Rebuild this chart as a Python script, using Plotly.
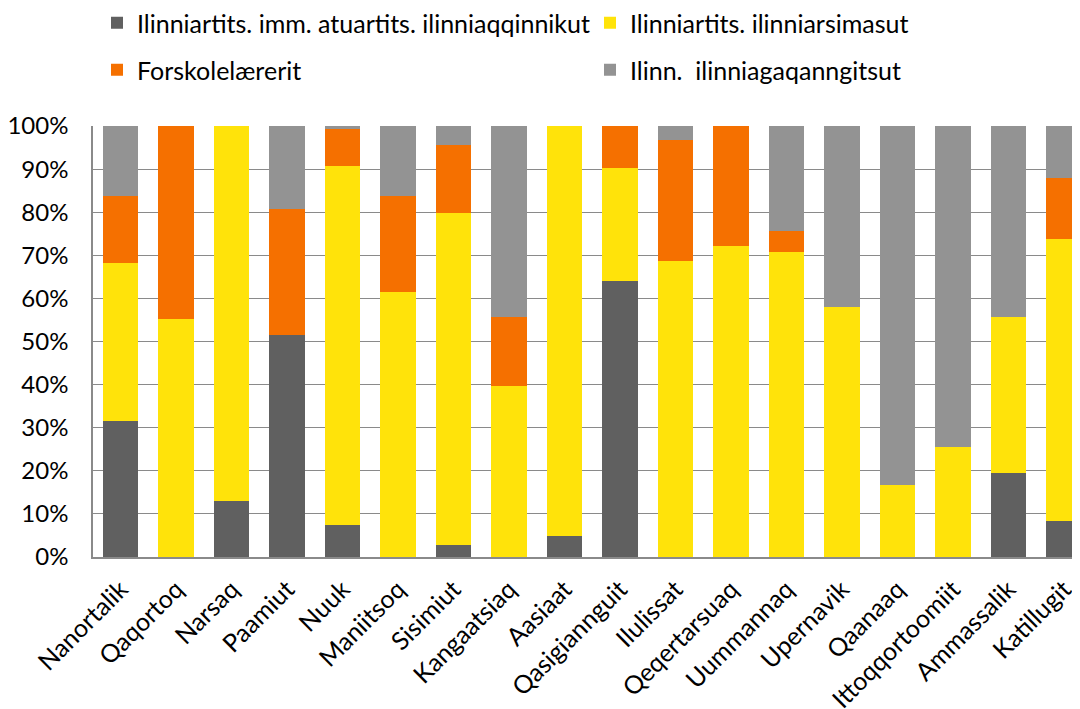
import plotly.graph_objects as go

steder = ['Nanortalik', 'Qaqortoq', 'Narsaq', 'Paamiut', 'Nuuk', 'Maniitsoq', 'Sisimiut',
          'Kangaatsiaq', 'Aasiaat', 'Qasigiannguit', 'Ilulissat', 'Qeqertarsuaq', 'Uummannaq',
          'Upernavik', 'Qaanaaq', 'Ittoqqortoomiit', 'Ammassalik', 'Katillugit']

# andele i procent, læst af figuren
imm_atuartits = [31.5, 0, 13.0, 51.4, 7.5, 0, 2.8, 0, 4.9, 64.0, 0, 0, 0, 0, 0, 0, 19.6, 8.4]
ilinniarsimasut = [36.8, 55.3, 87.0, 0, 83.2, 61.5, 76.9, 39.7, 95.1, 26.2, 68.7, 72.2, 70.7, 58.1, 16.6, 25.6, 36.1, 65.3]
forskolelaererit = [15.5, 44.7, 0, 29.4, 8.5, 22.3, 15.9, 15.9, 0, 9.8, 28.1, 27.8, 5.0, 0, 0, 0, 0, 14.3]
ilinniagaqanngitsut = [16.2, 0, 0, 19.2, 0.8, 16.2, 4.4, 44.4, 0, 0, 3.2, 0, 24.3, 41.9, 83.4, 74.4, 44.3, 12.0]

serier = [
    ('Ilinniartits. imm. atuartits. ilinniaqqinnikut', imm_atuartits, '#606060', 'legend'),
    ('Ilinniartits. ilinniarsimasut', ilinniarsimasut, '#FFE30A', 'legend2'),
    ('Forskolelærerit', forskolelaererit, '#F57000', 'legend3'),
    ('Ilinn.  ilinniagaqanngitsut', ilinniagaqanngitsut, '#939393', 'legend4'),
]

fnt = 'Lato, "Open Sans", sans-serif'
W, H = 1072, 701  # siden har 8 px kant

fig = go.Figure()
for navn, vals, farve, leg in serier:
    fig.add_trace(go.Bar(
        x=steder, y=[v / 100 for v in vals], name=navn,
        marker=dict(color=farve, line=dict(width=0)),
        legend=leg, showlegend=True
    ))


def legende(px, py):
    return dict(x=px / W, y=1 - py / H, xref='container', yref='container',
                xanchor='left', yanchor='middle', orientation='h',
                font=dict(size=25), itemwidth=30, bgcolor='rgba(0,0,0,0)')


fig.update_layout(
    width=W, height=H, showlegend=True,
    barmode='stack', bargap=0.36,
    plot_bgcolor='white', paper_bgcolor='white',
    margin=dict(l=85, r=0, t=118, b=152, autoexpand=False),
    font=dict(family=fnt, size=22, color='black'),
    legend=legende(89, 15),
    legend2=legende(582, 15),
    legend3=legende(89, 62),
    legend4=legende(582, 62),
)

fig.update_yaxes(range=[0, 1], tickformat='.0%', dtick=0.1,
                 showgrid=True, gridcolor='#8a8a8a', gridwidth=1.3,
                 showline=True, linecolor='#8a8a8a', linewidth=1.5,
                 ticks='', tickfont=dict(size=24), zeroline=False,
                 ticklabelstandoff=18)
fig.update_xaxes(range=[-0.5, 17.29], tickangle=-45,
                 showline=True, linecolor='#8a8a8a', linewidth=1.5,
                 ticks='', tickfont=dict(size=25), ticklabelstandoff=6)

fig.write_html("out.html")
